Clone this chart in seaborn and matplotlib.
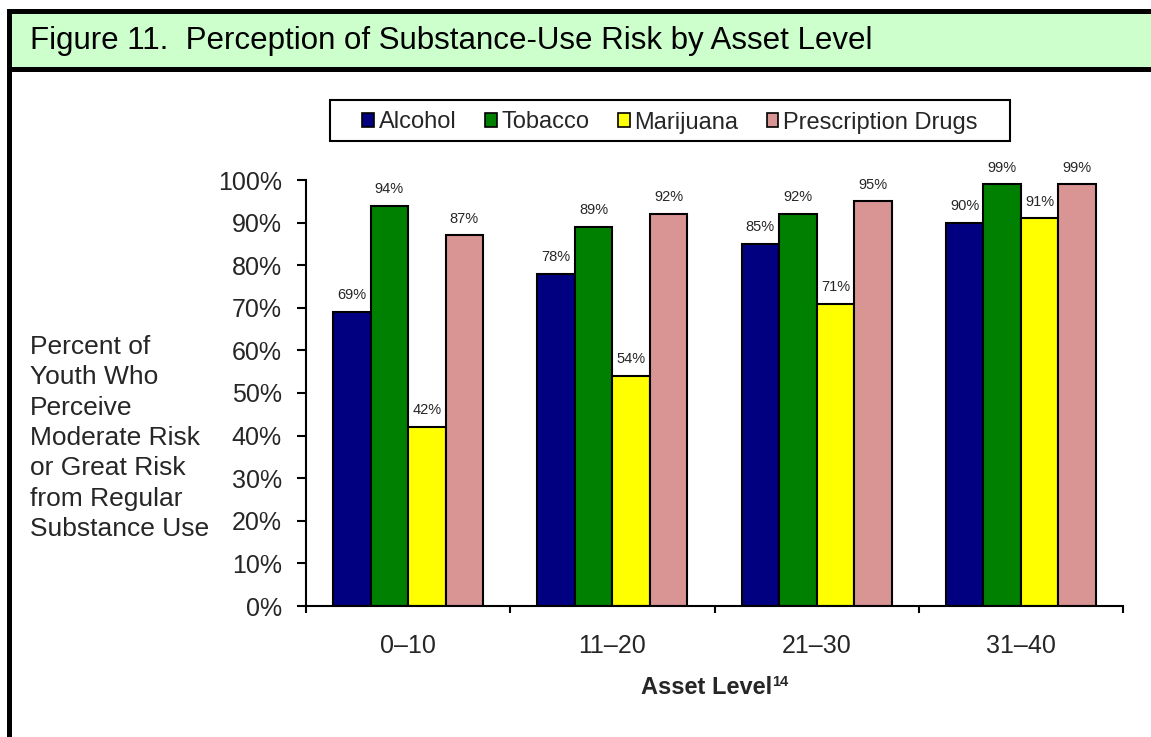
import numpy as np
import pandas as pd
import matplotlib
matplotlib.use("Agg")
import matplotlib.pyplot as plt
from matplotlib.patches import Rectangle
import seaborn as sns

# Data
levels = ["0–10", "11–20", "21–30", "31–40"]
substances = ["Alcohol", "Tobacco", "Marijuana", "Prescription Drugs"]
alcohol = [69, 78, 85, 90]
tobacco = [94, 89, 92, 99]
marijuana = [42, 54, 71, 91]
prescription = [87, 92, 95, 99]
colors = ["#000080", "#008000", "#FFFF00", "#D99594"]
y_ticks = list(range(0, 101, 10))

df = pd.DataFrame({
    "level": levels * len(substances),
    "substance": np.repeat(substances, len(levels)),
    "pct": alcohol + tobacco + marijuana + prescription,
})

sns.set_theme(style="ticks")
plt.rcParams["font.family"] = ["Liberation Sans", "DejaVu Sans"]

W, H = 1151, 737
fig = plt.figure(figsize=(W / 100, H / 100), dpi=100)


def fx(px):
    return px / W


def fy(py):
    return 1 - py / H


# Title banner with black rules and left border
fig.add_artist(Rectangle((fx(7), fy(72)), 1 - fx(7), (72 - 9) / H,
                         transform=fig.transFigure, facecolor="black", edgecolor="none"))
fig.add_artist(Rectangle((fx(12), fy(67)), 1 - fx(12), (67 - 14) / H,
                         transform=fig.transFigure, facecolor="#CCFFCC", edgecolor="none"))
fig.add_artist(Rectangle((fx(7), 0), 5 / W, fy(9),
                         transform=fig.transFigure, facecolor="black", edgecolor="none"))
fig.text(fx(30), fy(41), "Figure 11.  Perception of Substance-Use Risk by Asset Level",
         fontsize=22.5, ha="left", va="center", color="black")

ax = fig.add_axes([fx(306), fy(606), (1123 - 306) / W, (606 - 180) / H])
sns.barplot(data=df, x="level", y="pct", hue="substance", order=levels,
            hue_order=substances, palette=colors, saturation=1, width=0.735,
            edgecolor="black", linewidth=1.5, errorbar=None, ax=ax)

for cont in ax.containers:
    ax.bar_label(cont, fmt="{:.0f}%", padding=7, fontsize=10.5)

handles, labels = ax.get_legend_handles_labels()
if ax.get_legend() is not None:
    ax.get_legend().remove()
for h in handles:
    h.set_edgecolor("black")
    h.set_linewidth(1.2)
fig.legend(handles, labels, loc="center", bbox_to_anchor=(fx(670), fy(122.5)),
           ncol=4, frameon=False, fontsize=17, handlelength=0.5, handleheight=0.5,
           handletextpad=0.2, columnspacing=1.2)
fig.add_artist(Rectangle((fx(330), fy(141)), 680 / W, 41 / H, transform=fig.transFigure,
                         fill=False, edgecolor="black", linewidth=1.5))

# Axes styling
ax.set_ylim(0, 100)
ax.set_yticks(y_ticks)
ax.set_yticklabels([f"{v}%" for v in y_ticks])
ax.set_xlim(-0.5, len(levels) - 0.5)
ax.set_xticks(np.arange(-0.5, len(levels), 1.0))
ax.set_xticklabels([])
ax.set_xticks(range(len(levels)), minor=True)
ax.set_xticklabels(levels, minor=True)
ax.tick_params(axis="y", length=6.5, width=1.5, pad=11, labelsize=18, color="black")
ax.tick_params(axis="x", which="major", length=5, width=1.5, bottom=True, color="black")
ax.tick_params(axis="x", which="minor", length=0, pad=20, labelsize=18, bottom=True)
ax.set_xlabel("")
ax.set_ylabel("")
sns.despine(ax=ax)
for s in ("left", "bottom"):
    ax.spines[s].set_color("black")
    ax.spines[s].set_linewidth(1.5)

fig.text(fx(30), fy(438),
         "Percent of\nYouth Who\nPerceive\nModerate Risk\nor Great Risk\nfrom Regular\nSubstance Use",
         fontsize=19, ha="left", va="center", linespacing=1.33)

xl = fig.text(fx(707), fy(687), "Asset Level", fontsize=17, fontweight="bold",
              ha="center", va="center")
ax.annotate("14", xy=(1, 0.42), xycoords=xl, xytext=(0, 0), textcoords="offset points",
            fontsize=10.5, fontweight="bold", ha="left", va="bottom")

fig.savefig("out.png", dpi=100)
